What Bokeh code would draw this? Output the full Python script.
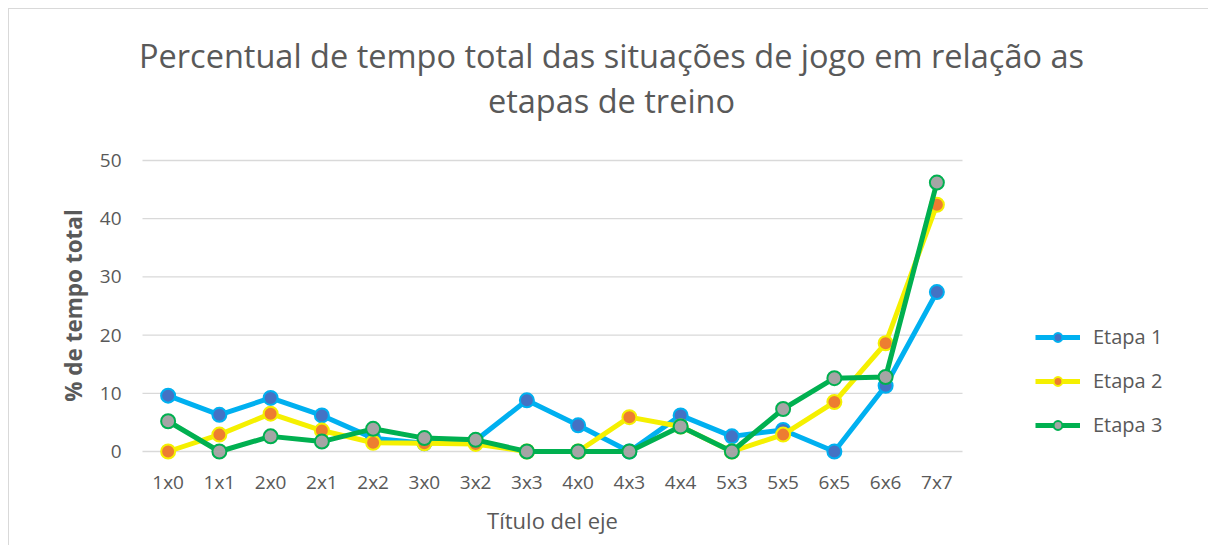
import math
from bokeh.plotting import figure
from bokeh.models import Range1d, Legend, LegendItem, Label
from bokeh.embed import file_html
from bokeh.resources import INLINE

categories = ["1x0", "1x1", "2x0", "2x1", "2x2", "3x0", "3x2", "3x3",
              "4x0", "4x3", "4x4", "5x3", "5x5", "6x5", "6x6", "7x7"]
etapa1 = [9.6, 6.3, 9.2, 6.2, 2.3, 1.4, 1.9, 8.8, 4.5, 0, 6.2, 2.6, 3.7, 0, 11.3, 27.4]
etapa2 = [0, 2.9, 6.5, 3.6, 1.5, 1.4, 1.3, 0, 0, 5.9, 4.3, 0, 2.9, 8.5, 18.6, 42.4]
etapa3 = [5.2, 0, 2.6, 1.7, 3.9, 2.3, 2.0, 0, 0, 0, 4.3, 0, 7.3, 12.6, 12.8, 46.2]
y_ticks = [0, 10, 20, 30, 40, 50]
y_tick_labels = ["0", "10", "20", "30", "40", "50"]
series_names = ["Etapa 1", "Etapa 2", "Etapa 3"]
title_lines = ["Percentual de tempo total das situações de jogo em relação as", "etapas de treino"]
x_title = "Título del eje"
y_title = "% de tempo total"

FONT = "Open Sans"
TXT = "#595959"

n = len(categories)
xs = list(range(n))

W, H = 1200, 537
# pixel scale of the plotting area (category step and value unit)
PX_X, PX_Y = 51.25, 5.82
X0 = -0.5 - 133 / PX_X
Y0 = -(537 - 442) / PX_Y
p = figure(width=W, height=H,
           x_range=Range1d(X0, X0 + W / PX_X), y_range=Range1d(Y0, Y0 + H / PX_Y),
           output_backend="svg", toolbar_location=None,
           min_border_left=0, min_border_right=0, min_border_top=0, min_border_bottom=0)
p.styles = {"border-left": "1px solid #d9d9d9", "border-top": "1px solid #d9d9d9",
            "margin": "8px 0 0 8px"}
p.outline_line_color = None
p.background_fill_color = "white"
p.border_fill_color = "white"
p.xgrid.grid_line_color = None
p.ygrid.grid_line_color = None
p.xaxis.visible = False
p.yaxis.visible = False

# horizontal gridlines across the category span
p.segment(x0=[-0.5] * len(y_ticks), x1=[n - 0.5] * len(y_ticks), y0=y_ticks, y1=y_ticks,
          line_color="#d9d9d9", line_width=1.3)

# tick labels
p.text(x=[-0.5] * len(y_ticks), y=y_ticks, text=y_tick_labels, x_offset=-21,
       text_align="right", text_baseline="middle", text_font={"value": FONT},
       text_font_size={"value": "19px"}, text_color=TXT)
p.text(x=xs, y=[0] * n, text=categories, y_offset=30,
       text_align="center", text_baseline="middle", text_font={"value": FONT},
       text_font_size={"value": "19px"}, text_color=TXT)

styles = [
    ("#00B0F0", "#4472C4", "#00B0F0"),
    ("#F5F000", "#ED7D31", "#F5F000"),
    ("#00B050", "#A5A5A5", "#00B050"),
]
items = []
for name, vals, (lc, fc, oc) in zip(series_names, [etapa1, etapa2, etapa3], styles):
    l = p.line(xs, vals, line_color=lc, line_width=5)
    s = p.scatter(xs, vals, size=14, fill_color=fc, line_color=oc, line_width=2)
    items.append(LegendItem(label=name, renderers=[l, s]))

legend = Legend(items=items, orientation="vertical")
legend.border_line_color = None
legend.background_fill_alpha = 0
legend.label_text_font = FONT
legend.label_text_font_size = "20px"
legend.label_text_color = TXT
legend.glyph_width = 45
legend.glyph_height = 22
legend.label_height = 22
legend.label_standoff = 13
legend.spacing = 17
legend.padding = 0
legend.margin = 0
legend.location = (1026, 108)
p.add_layout(legend)

# chart title (two lines)
for i, t in enumerate(title_lines):
    p.add_layout(Label(x=602, y=491 - i * 45, x_units="screen", y_units="screen", text=t,
                       text_align="center", text_baseline="middle", text_font=FONT,
                       text_font_size="32.5px", text_color=TXT))

# axis titles
p.add_layout(Label(x=543, y=27, x_units="screen", y_units="screen", text=x_title,
                   text_align="center", text_baseline="middle", text_font=FONT,
                   text_font_size="22px", text_color=TXT))
p.add_layout(Label(x=64, y=241, x_units="screen", y_units="screen", text=y_title,
                   angle=math.pi / 2, text_align="center", text_baseline="middle",
                   text_font=FONT, text_font_size="22.5px", text_font_style="bold",
                   text_color=TXT))

open("out.html", "w").write(file_html(p, INLINE))
